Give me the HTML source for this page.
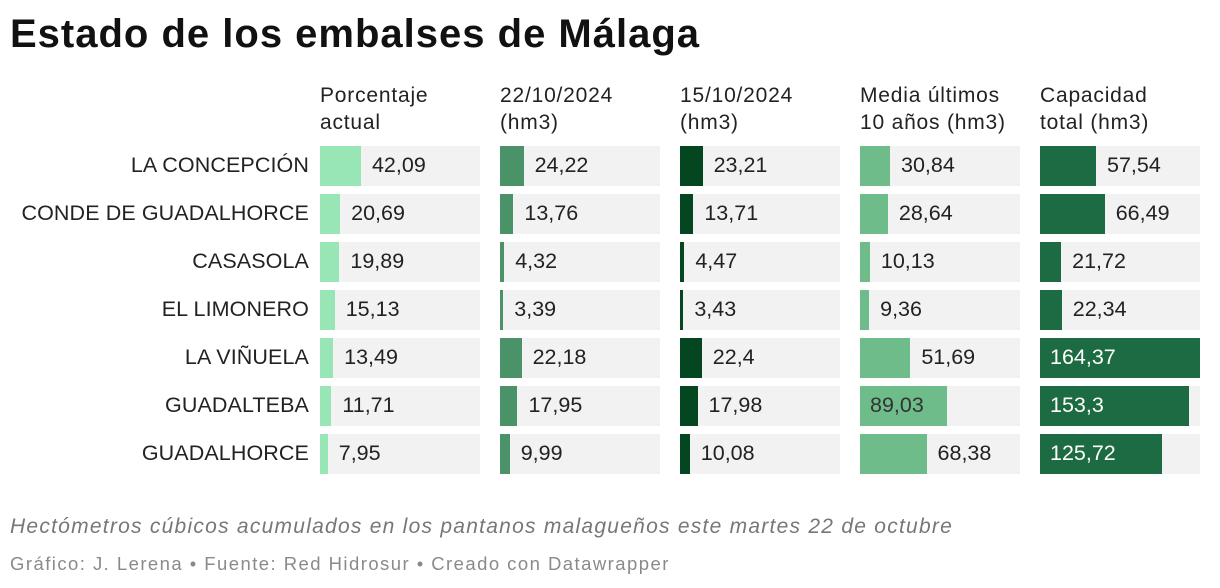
<!DOCTYPE html>
<html><head><meta charset="utf-8"><style>
body{margin:0;background:#fff;font-family:"Liberation Sans",sans-serif;color:#1d1d1d;width:1220px;height:588px;overflow:hidden;position:relative}
.t{position:absolute;white-space:nowrap}
</style></head><body>
<div class="t" style="left:10px;top:12px;font-size:40px;font-weight:bold;color:#111;letter-spacing:1px">Estado de los embalses de Málaga</div>
<div id="chart"></div>
<div class="t" style="left:10px;top:515px;font-size:21px;font-style:italic;color:#777;letter-spacing:1.25px">Hectómetros cúbicos acumulados en los pantanos malagueños este martes 22 de octubre</div>
<div class="t" style="left:10px;top:553px;font-size:18.5px;color:#8a8a8a;letter-spacing:1.45px">Gráfico: J. Lerena • Fuente: Red Hidrosur • Creado con Datawrapper</div>
<script>
const rows=["LA CONCEPCIÓN","CONDE DE GUADALHORCE","CASASOLA","EL LIMONERO","LA VIÑUELA","GUADALTEBA","GUADALHORCE"];
const headers=[["Porcentaje","actual"],["22/10/2024","(hm3)"],["15/10/2024","(hm3)"],["Media últimos","10 años (hm3)"],["Capacidad","total (hm3)"]];
const pct=[42.09,20.69,19.89,15.13,13.49,11.71,7.95];
const v2210=[24.22,13.76,4.32,3.39,22.18,17.95,9.99];
const v1510=[23.21,13.71,4.47,3.43,22.4,17.98,10.08];
const media=[30.84,28.64,10.13,9.36,51.69,89.03,68.38];
const cap=[57.54,66.49,21.72,22.34,164.37,153.3,125.72];
const cols=[pct,v2210,v1510,media,cap];
const colors=["#98e5b5","#4a9369","#03461f","#6ebc8a","#1d6b42"];
const txtIn=["#222","#fff","#fff","#333","#fff"];
const root=document.getElementById('chart');
const maxV=Math.max(...cols.flat());
const x=(v)=>v/maxV*160;
function fmt(v){return String(v).replace('.',',');}
headers.forEach((h,c)=>{
  const d=document.createElement('div');d.className='t';
  
  
  d.style.cssText=`left:${320+c*180}px;top:82px;font-size:21px;line-height:27px;color:#222;letter-spacing:0.8px`;
  d.innerHTML=h[0]+'<br>'+h[1];root.appendChild(d);
});
rows.forEach((r,i)=>{
  const top=146+i*48;
  const l=document.createElement('div');l.className='t';
  
  
  l.style.cssText=`right:${1220-309}px;top:${top+7}px;font-size:21.5px;color:#222;letter-spacing:0.1px`;
  l.textContent=r;root.appendChild(l);
  cols.forEach((arr,c)=>{
    const left=320+c*180, v=arr[i], w=x(v);
    const bg=document.createElement('div');bg.className='t';
    
    
    bg.style.cssText=`left:${left}px;top:${top}px;width:160px;height:40px;background:#f2f2f2`;
    root.appendChild(bg);
    const b=document.createElement('div');b.className='t';
    
    
    b.style.cssText=`left:${left}px;top:${top}px;width:${w}px;height:40px;background:${colors[c]}`;
    root.appendChild(b);
    const inside=w>80;
    const t=document.createElement('div');t.className='t';
    
    
    t.style.cssText=`left:${inside?left+10:left+w+11}px;top:${top+7}px;font-size:21.5px;color:${inside?txtIn[c]:'#222'}`;
    t.textContent=fmt(v);root.appendChild(t);
  });
});
</script>
</body></html>
